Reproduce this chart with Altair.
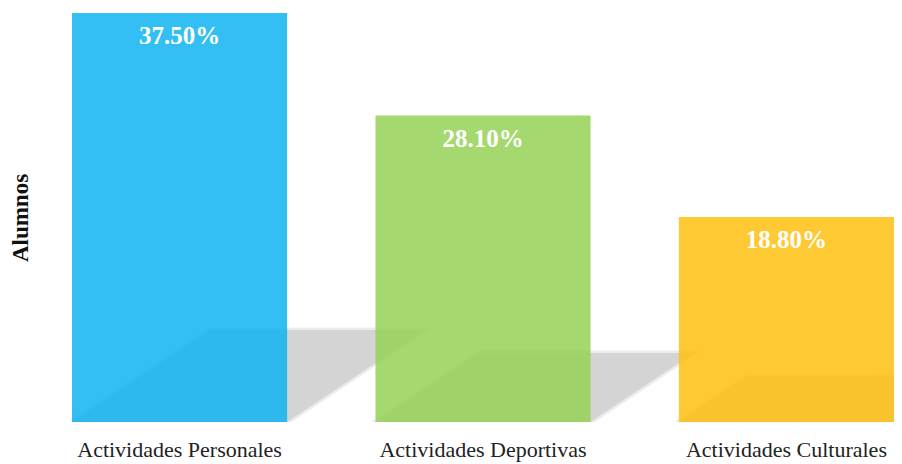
import altair as alt
import pandas as pd

categories = ["Actividades Personales", "Actividades Deportivas", "Actividades Culturales"]
values = [37.5, 28.1, 18.8]
labels = ["37.50%", "28.10%", "18.80%"]
colors = ["#0FB4F1", "#97D157", "#FFC00F"]

# style constants
BAR_FRAC = 0.709          # bar width as a fraction of the band step
PLOT_W, PLOT_H = 822, 409
Y_MAX = 37.5
SHADOW_H = 0.225          # shadow height relative to bar height
SHADOW_SLANT = 1.5        # horizontal shift per pixel of shadow height
SERIF = "Liberation Serif"

df = pd.DataFrame({"cat": categories, "val": values, "lab": labels})

# shadow parallelograms derived from the values
px_per_unit = PLOT_H / Y_MAX
step_px = PLOT_W / (len(categories) - 1 + BAR_FRAC)
rows = []
for i, (c, v) in enumerate(zip(categories, values)):
    h = SHADOW_H * v
    shift = SHADOW_SLANT * h * px_per_unit / step_px
    pts = [(i, 0, 0), (i + shift, 0, h), (i + BAR_FRAC, 0, h), (i + BAR_FRAC + shift, h, h)]
    for x, y1, y2 in pts:
        rows.append({"cat": c, "sx": x, "sy": y1, "sy2": y2})
sdf = pd.DataFrame(rows)

y_scale = alt.Scale(domain=[0, Y_MAX], nice=False, zero=True)
y_axis = alt.Axis(
    title="Alumnos", labels=False, ticks=False, domain=False, grid=False,
    titleFont=SERIF, titleFontSize=23, titleFontWeight="bold",
    titleColor="#111111", titlePadding=40,
)

shadow = alt.Chart(sdf).mark_area(
    color="#D4D4D4", stroke="#D4D4D4", strokeWidth=5, strokeOpacity=0.45, clip=True
).encode(
    x=alt.X("sx:Q", scale=alt.Scale(domain=[0, len(categories) - 1 + BAR_FRAC], nice=False, zero=False), axis=None),
    y=alt.Y("sy:Q", scale=y_scale, axis=y_axis),
    y2="sy2:Q",
    detail="cat:N",
)

x_axis = alt.Axis(
    title=None, labelAngle=0, ticks=False, domain=False, labelPadding=17,
    labelFont=SERIF, labelFontSize=22, labelColor="#222222",
    labelLimit=400,
)
x_enc = alt.X(
    "cat:N",
    sort=categories,
    scale=alt.Scale(paddingInner=1 - BAR_FRAC, paddingOuter=0),
    axis=x_axis,
)

bars = alt.Chart(df).mark_bar(opacity=0.85).encode(
    x=x_enc,
    y=alt.Y("val:Q", scale=y_scale, axis=y_axis),
    color=alt.Color("cat:N", scale=alt.Scale(domain=categories, range=colors), legend=None),
)

text = alt.Chart(df).mark_text(
    color="white", font=SERIF, fontSize=25, fontWeight="bold",
    baseline="middle", dy=23,
).encode(
    x=alt.X("cat:N", sort=categories, axis=x_axis),
    y=alt.Y("val:Q", scale=y_scale, axis=y_axis),
    text="lab:N",
)

front = alt.layer(bars, text)
chart = alt.layer(shadow, front).resolve_scale(x="independent").properties(
    width=PLOT_W, height=PLOT_H,
    autosize=alt.AutoSizeParams(type="none"),
    padding={"left": 64, "top": 5, "right": 0, "bottom": 40},
).configure(font=SERIF).configure_view(stroke=None).configure_axis(
    labelFont=SERIF, titleFont=SERIF
)

chart.save("out.html", embed_options={"renderer": "svg", "actions": False})
